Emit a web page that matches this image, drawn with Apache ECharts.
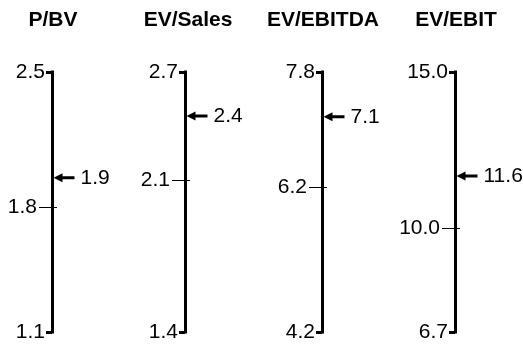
<!DOCTYPE html>
<html>
<head>
<meta charset="utf-8">
<script src="https://cdn.jsdelivr.net/npm/echarts@6/dist/echarts.min.js"></script>
<style>
  html, body { margin: 0; padding: 0; background: #fff; }
  #chart { width: 523px; height: 347px; }
</style>
</head>
<body>
<div id="chart"></div>
<script>
// Valuation multiples: historical low / median / high and the current reading
const metrics = ['P/BV', 'EV/Sales', 'EV/EBITDA', 'EV/EBIT'];
const lowValues = [1.10, 1.36, 4.16, 6.66];
const highValues = [2.50, 2.66, 7.76, 14.96];
const medianValues = [1.77, 2.12, 6.17, 9.96];
const currentValues = [1.93, 2.44, 7.14, 11.64];

// Layout of the four scales
const scaleLeft = [52, 185, 322, 455];
const titleCenter = [52, 187, 322, 455];
const FONT = '"Liberation Sans", Arial, Helvetica, sans-serif';
const INK = '#000';
const fmt = v => Number(v).toFixed(1);
const labelText = { color: INK, fontSize: 21, fontFamily: FONT };

const grids = [], xAxes = [], yAxes = [], series = [], titles = [];

metrics.forEach((name, i) => {
  grids.push({ left: scaleLeft[i], top: 72, width: 60, height: 260 });
  xAxes.push({ type: 'value', gridIndex: i, min: 0, max: 1, show: false });

  const base = {
    type: 'value', gridIndex: i, position: 'left',
    min: lowValues[i], max: highValues[i],
    splitLine: { show: false }
  };

  // spine with heavy end ticks at low / high
  yAxes.push(Object.assign({}, base, {
    axisLine: { show: true, onZero: false, lineStyle: { color: INK, width: 3, cap: 'square' } },
    axisTick: { show: true, customValues: [lowValues[i], highValues[i]], length: 6,
      lineStyle: { color: INK, width: 3 } },
    axisLabel: Object.assign({ show: true, customValues: [lowValues[i], highValues[i]],
      margin: 7, formatter: fmt }, labelText)
  }));

  // thin median tick, outer part with its label
  yAxes.push(Object.assign({}, base, {
    axisLine: { show: false, onZero: false },
    axisTick: { show: true, customValues: [medianValues[i]], length: 13,
      lineStyle: { color: INK, width: 1 } },
    axisLabel: Object.assign({ show: true, customValues: [medianValues[i]],
      margin: 15, formatter: fmt }, labelText)
  }));

  // thin median tick, inner part
  yAxes.push(Object.assign({}, base, {
    axisLine: { show: false, onZero: false },
    axisTick: { show: true, inside: true, customValues: [medianValues[i]], length: 5,
      lineStyle: { color: INK, width: 1 } },
    axisLabel: { show: false }
  }));

  // arrow pointing at the current value
  series.push({
    type: 'scatter', xAxisIndex: i, yAxisIndex: i * 3,
    data: [[0, currentValues[i]]],
    symbol: 'path://M0,4.5 L9,0 L9,3 L21,3 L21,6 L9,6 L9,9 Z',
    symbolSize: [21, 9], symbolKeepAspect: false,
    symbolOffset: [12, 0],
    itemStyle: { color: INK, opacity: 1 },
    label: Object.assign({ show: true, position: 'right', distance: 6,
      formatter: p => fmt(p.value[1]) }, labelText),
    silent: true, clip: false, z: 5
  });

  titles.push({
    text: name, left: titleCenter[i] - 4, top: 5, textAlign: 'center',
    textStyle: { fontSize: 21, fontWeight: 'bold', color: INK, fontFamily: FONT }
  });
});

const chart = echarts.init(document.getElementById('chart'), null, { renderer: 'canvas' });
chart.setOption({
  animation: false,
  backgroundColor: '#fff',
  title: titles,
  grid: grids,
  xAxis: xAxes,
  yAxis: yAxes,
  series: series
});
</script>
</body>
</html>
